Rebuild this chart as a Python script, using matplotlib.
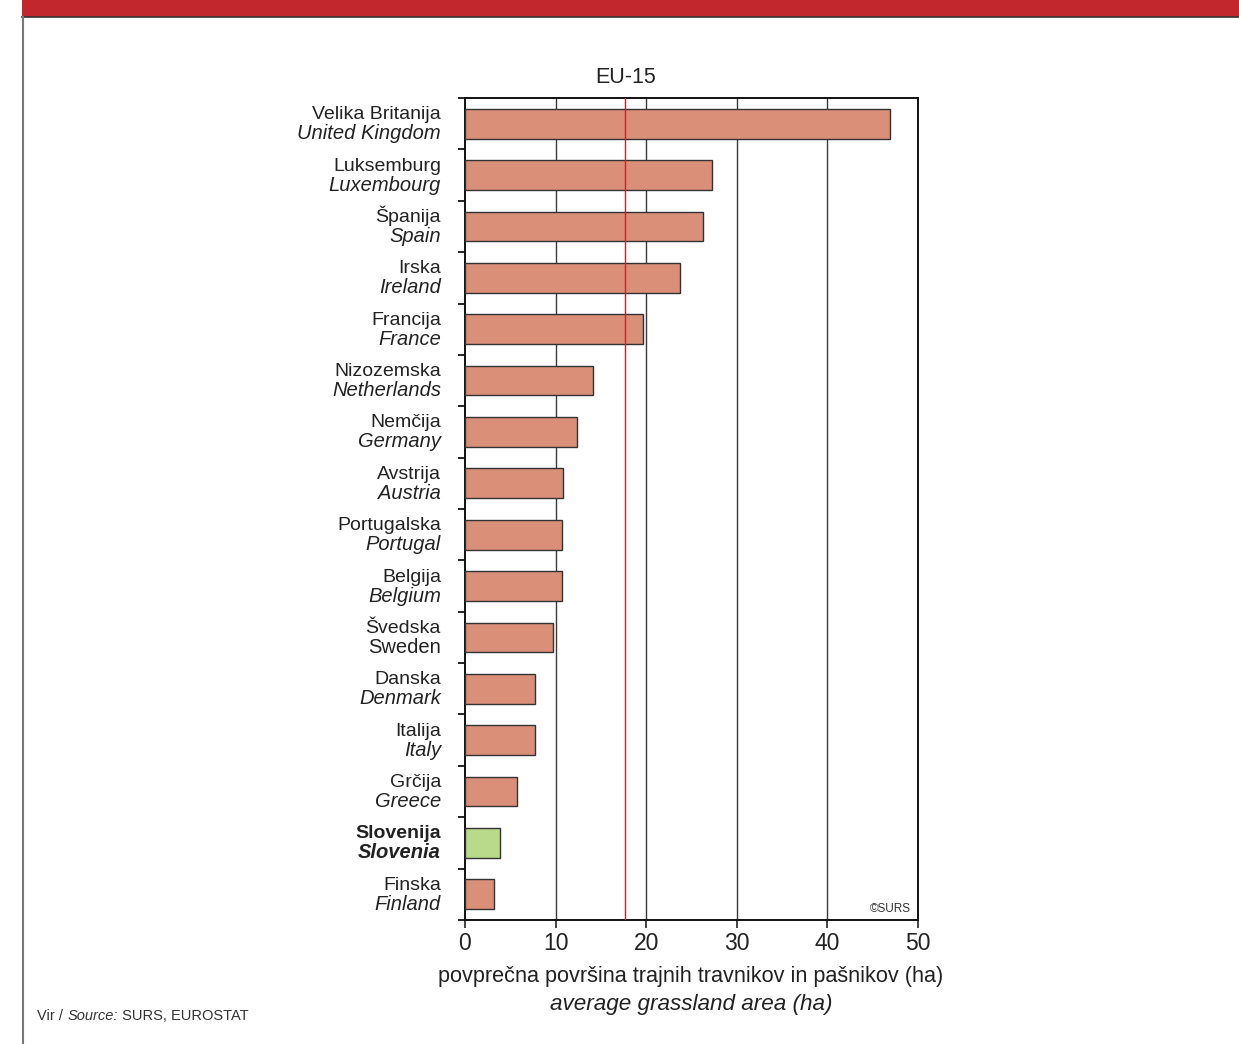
import numpy as np
import matplotlib.pyplot as plt
from matplotlib.patches import Rectangle
from matplotlib.lines import Line2D
import matplotlib.transforms as mtransforms

plt.rcParams['font.family'] = ['Liberation Sans', 'DejaVu Sans']

# data (top to bottom)
names_si = ['Velika Britanija', 'Luksemburg', 'Španija', 'Irska', 'Francija',
            'Nizozemska', 'Nemčija', 'Avstrija', 'Portugalska', 'Belgija',
            'Švedska', 'Danska', 'Italija', 'Grčija', 'Slovenija', 'Finska']
names_en = ['United Kingdom', 'Luxembourg', 'Spain', 'Ireland', 'France',
            'Netherlands', 'Germany', 'Austria', 'Portugal', 'Belgium',
            'Sweden', 'Denmark', 'Italy', 'Greece', 'Slovenia', 'Finland']
values = [46.9, 27.3, 26.3, 23.7, 19.6, 14.1, 12.4, 10.8, 10.7, 10.7,
          9.7, 7.7, 7.7, 5.7, 3.9, 3.2]
eu15_avg = 17.7
highlight = 'Slovenija'

fig = plt.figure(figsize=(12.39, 10.44), dpi=100)
ax = fig.add_axes([0.3753, 0.1188, 0.3656, 0.7873])

n = len(values)
y = np.arange(n)
colors = ['#b9d98b' if s == highlight else '#da8f78' for s in names_si]
ax.barh(y, values, height=0.58, color=colors, edgecolor='#333333', linewidth=1.0, zorder=3)

ax.set_ylim(n - 0.5, -0.5)
ax.set_xlim(0, 50)
for g in [10, 20, 30, 40]:
    ax.axvline(g, color='#3a3a3a', linewidth=1.0, zorder=1)
ax.axvline(eu15_avg, color='#c9232d', linewidth=1.0, zorder=4)

ax.set_xticks([0, 10, 20, 30, 40, 50])
ax.tick_params(axis='x', labelsize=16.5, length=6, width=1.2, direction='out', pad=3, colors='#222222')
ax.set_yticks(np.arange(n + 1) - 0.5)
ax.set_yticklabels([])
ax.tick_params(axis='y', length=5, width=1.2, direction='out')
for sp in ax.spines.values():
    sp.set_linewidth(1.4)
    sp.set_color('#111111')

trans = mtransforms.blended_transform_factory(ax.transAxes, ax.transData)
for i, (si, en) in enumerate(zip(names_si, names_en)):
    bold = 'bold' if si == highlight else 'normal'
    style_en = 'normal' if en == 'Sweden' else 'italic'
    ax.text(-0.053, i - 0.01, si, transform=trans, ha='right', va='bottom',
            fontsize=14, fontweight=bold, color='#222222')
    ax.text(-0.053, i + 0.01, en, transform=trans, ha='right', va='top',
            fontsize=14.5, fontweight=bold, fontstyle=style_en, color='#222222')

# title sits above the EU-15 average line
title_trans = mtransforms.blended_transform_factory(ax.transData, ax.transAxes)
ax.text(eu15_avg, 1.012, 'EU-15', transform=title_trans, ha='center', va='bottom',
        fontsize=15.5, color='#222222')
ax.text(0.985, 0.006, '©SURS', transform=ax.transAxes, ha='right', va='bottom',
        fontsize=8.5, color='#333333')

fig.text(0.5577, 0.065, 'povprečna površina trajnih travnikov in pašnikov (ha)',
         ha='center', va='center', fontsize=15.6, color='#222222')
fig.text(0.5577, 0.038, 'average grassland area (ha)', ha='center', va='center',
         fontsize=16.2, fontstyle='italic', color='#222222')

# source line, pieces chained one after another
t1 = fig.text(0.030, 0.0265, 'Vir / ', ha='left', va='center', fontsize=10.5, color='#333333')
t2 = ax.annotate('Source:', xy=(1, 0), xycoords=t1, ha='left', va='bottom',
                 fontsize=10.5, fontstyle='italic', color='#333333', annotation_clip=False)
ax.annotate(' SURS, EUROSTAT', xy=(1, 0), xycoords=t2, ha='left', va='bottom',
            fontsize=10.5, color='#333333', annotation_clip=False)

# page decorations
fig.patches.append(Rectangle((0.0178, 0.9837), 0.99, 0.02, transform=fig.transFigure,
                             facecolor='#c1272d', edgecolor='none'))
fig.lines.append(Line2D([0.0178, 1.0], [0.9837, 0.9837], transform=fig.transFigure,
                        color='#333333', linewidth=1.2))
fig.lines.append(Line2D([0.0182, 0.0182], [0.0, 0.9837], transform=fig.transFigure,
                        color='#777777', linewidth=1.5))

fig.savefig('out.png', dpi=100)
